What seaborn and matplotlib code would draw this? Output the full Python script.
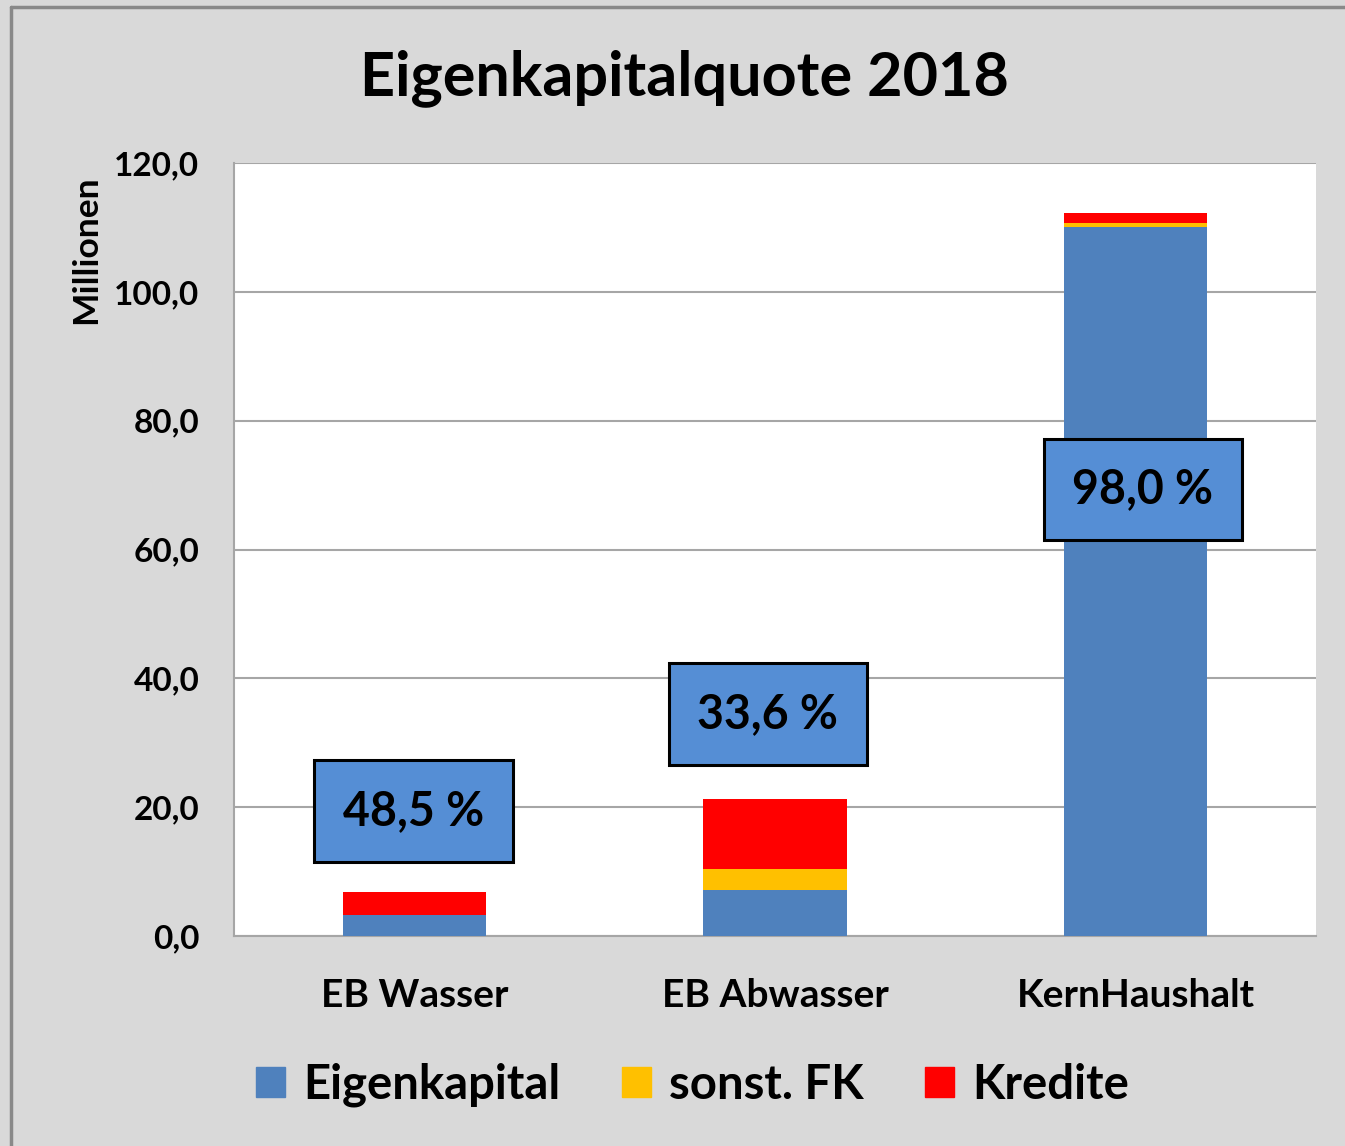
import numpy as np
import pandas as pd
import matplotlib
matplotlib.use("Agg")
import matplotlib.pyplot as plt
import seaborn as sns
from matplotlib.ticker import FuncFormatter, FixedLocator
from matplotlib.lines import Line2D

# ----------------------------
# Data (Millionen)
# ----------------------------
categories = ["EB Wasser", "EB Abwasser", "KernHaushalt"]
eigenkapital = [3.3, 7.15, 110.1]
sonst_fk = [0.0, 3.25, 0.6]
kredite = [3.5, 10.9, 1.6]
quote_labels = ["48,5 %", "33,6 %", "98,0 %"]
label_y = [19.4, 34.5, 69.3]

series_names = ["Eigenkapital", "sonst. FK", "Kredite"]
colors = ["#4f81bd", "#ffc000", "#ff0000"]

df = pd.DataFrame({
    "Kategorie": categories,
    "Eigenkapital": eigenkapital,
    "sonst. FK": sonst_fk,
    "Kredite": kredite,
})
# cumulative heights for stacking (draw tallest first)
df["cum_ek"] = df["Eigenkapital"]
df["cum_fk"] = df["cum_ek"] + df["sonst. FK"]
df["cum_kr"] = df["cum_fk"] + df["Kredite"]

sns.set_style("white")
plt.rcParams["font.family"] = ["Lato", "DejaVu Sans"]
plt.rcParams["font.weight"] = "bold"
plt.rcParams["text.color"] = "black"
plt.rcParams["axes.labelcolor"] = "black"

fig = plt.figure(figsize=(13.45, 11.46), dpi=100)
fig.patch.set_facecolor("#d9d9d9")
ax = fig.add_axes([234 / 1345, 1 - 936 / 1146, (1316 - 234) / 1345, (936 - 163) / 1146])
ax.set_facecolor("white")

# outer chart border (left and top only are visible)
fig.add_artist(Line2D([11 / 1345, 11 / 1345], [0, 1 - 7 / 1146], transform=fig.transFigure,
                      color="#898989", linewidth=2.5))
fig.add_artist(Line2D([11 / 1345, 1], [1 - 7 / 1146, 1 - 7 / 1146], transform=fig.transFigure,
                      color="#898989", linewidth=2.5))

for col, color in zip(["cum_kr", "cum_fk", "cum_ek"], colors[::-1]):
    sns.barplot(data=df, x="Kategorie", y=col, color=color, width=0.397,
                saturation=1, ax=ax, zorder=3, edgecolor="none")

ax.set_ylim(0, 120)
ax.set_xlim(-0.5, 2.5)
ax.yaxis.set_major_locator(FixedLocator(np.arange(0, 121, 20)))
ax.yaxis.set_major_formatter(FuncFormatter(lambda v, p: f"{v:.1f}".replace(".", ",")))
ax.grid(axis="y", color="#a6a6a6", linewidth=1.5, zorder=0)
ax.set_axisbelow(True)

for s in ["top", "right"]:
    ax.spines[s].set_visible(False)
ax.spines["left"].set_color("#a6a6a6")
ax.spines["bottom"].set_color("#a6a6a6")
ax.spines["left"].set_linewidth(1.5)
ax.spines["bottom"].set_linewidth(1.5)

ax.tick_params(axis="y", length=12, width=1.5, color="#a6a6a6", labelcolor="black",
               labelsize=24, pad=13)
ax.tick_params(axis="x", which="major", length=0, labelcolor="black", labelsize=28, pad=30)
ax.set_xticks([-0.5, 0.5, 1.5, 2.5], minor=True)
ax.tick_params(axis="x", which="minor", length=12, width=1.5, color="#a6a6a6")
for lbl in ax.get_yticklabels() + ax.get_xticklabels():
    lbl.set_fontweight("bold")

ax.set_xlabel("")
ax.set_ylabel("Millionen", fontsize=25.5, fontweight="bold")
ax.yaxis.set_label_coords(-0.122, 0.888)

# percentage boxes
for i, (txt, yy) in enumerate(zip(quote_labels, label_y)):
    xoff = [-0.003, -0.02, 0.02][i]
    ax.text(i + xoff, yy, txt, ha="center", va="center", fontsize=33.5,
            fontweight="bold", zorder=5,
            bbox=dict(boxstyle="square,pad=0.62", facecolor="#558ed5",
                      edgecolor="black", linewidth=2.2))

fig.suptitle("Eigenkapitalquote 2018", x=684 / 1345, y=1 - 78 / 1146, va="center",
             fontsize=44, fontweight="bold")

handles = [plt.Rectangle((0, 0), 1, 1, color=c) for c in colors]
fig.legend(handles, series_names, loc="center", bbox_to_anchor=(693 / 1345, 1 - 1085 / 1146),
           ncol=3, frameon=False, handlelength=0.6, handleheight=0.6,
           handletextpad=0.4, columnspacing=1.3, prop={"weight": "bold", "size": 34})

fig.savefig("out.png", dpi=100, facecolor=fig.get_facecolor())
